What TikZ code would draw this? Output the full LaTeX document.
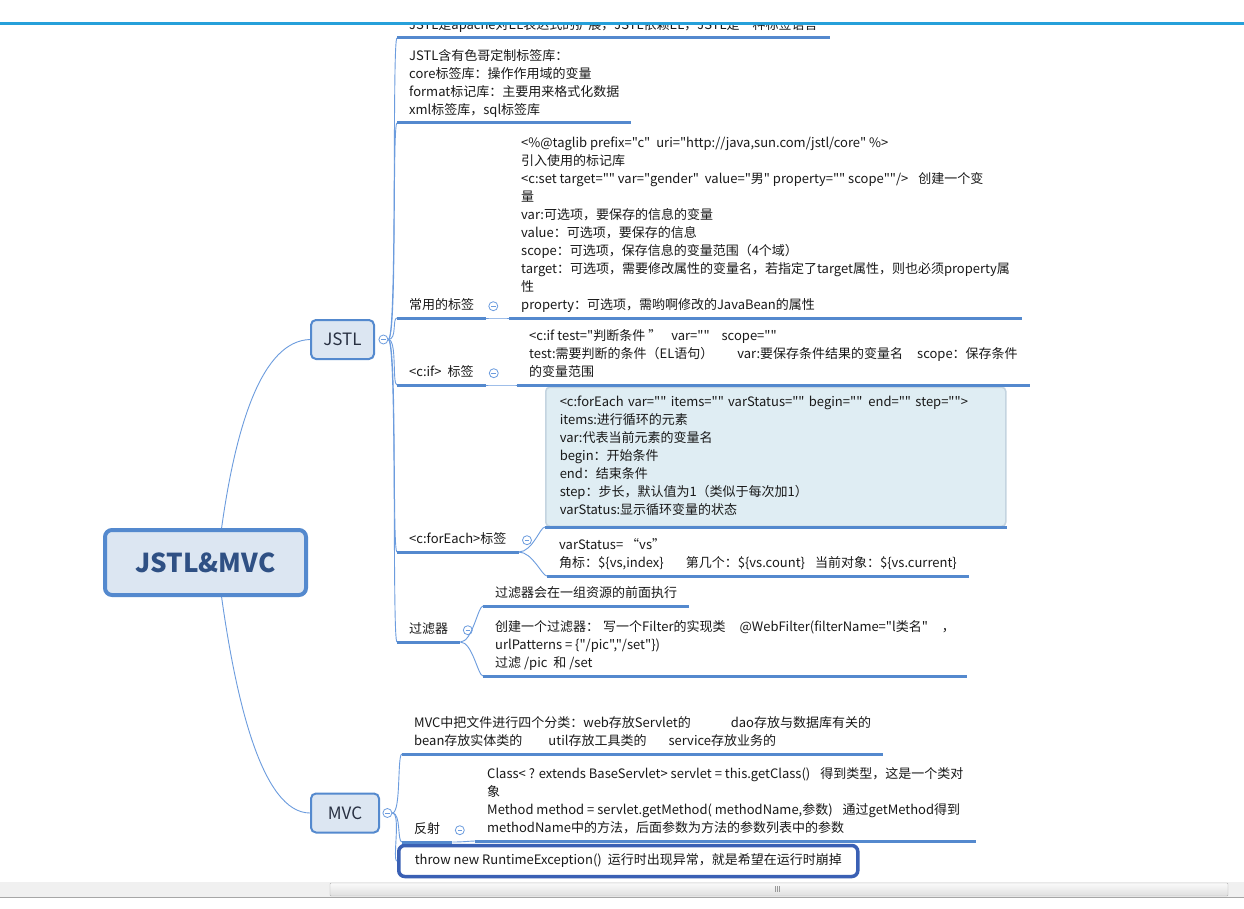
\documentclass[tikz,border=0pt]{standalone}
\usepackage{fontspec}
\setmainfont{Noto Sans CJK SC}[Ligatures=TeXOff]
\usepackage{xcolor}
\usepackage{tikz}
\usetikzlibrary{positioning, shadows}
\definecolor{linkblue}{RGB}{108,156,222}
\definecolor{ulblue}{RGB}{84,137,206}
\definecolor{topicfill}{RGB}{220,230,242}
\definecolor{topictext}{RGB}{40,48,66}
\definecolor{roottext}{RGB}{47,80,132}
\definecolor{barblue}{RGB}{38,160,218}
\definecolor{selblue}{RGB}{58,96,180}
\definecolor{selfill}{RGB}{223,237,243}
\definecolor{seledge}{RGB}{196,212,224}
\definecolor{txt}{RGB}{25,25,25}
\newcommand{\gapx}[1]{\hspace*{#1pt}}
\tikzset{
  % Mind map styles
  root/.style={rectangle, rounded corners=7pt, minimum width=201pt, minimum height=65pt, draw=ulblue, line width=4pt, fill=topicfill, text=roottext, font=\fontsize{26}{30}\selectfont\bfseries},
  topic/.style={rectangle, rounded corners=5pt, minimum width=#1, minimum height=39pt, draw=ulblue, line width=2pt, fill=topicfill, text=topictext, font=\fontsize{17}{20}\selectfont},
  topic/.default={63pt},
  leaf/.style={rectangle, anchor=south west, inner xsep=12pt, inner ysep=2.6pt, align=left, text=txt, font=\fontsize{13}{18}\selectfont, execute at begin node=\strut, execute at end node=\strut},
  selleaf/.style={leaf, inner xsep=14pt, inner ysep=6.5pt, rounded corners=4pt, fill=selfill, draw=seledge, line width=1.5pt, drop shadow={opacity=0.2, shadow xshift=0pt, shadow yshift=-1.5pt}},
  thrbox/.style={leaf, anchor=west, inner xsep=16pt, inner ysep=6.5pt, rounded corners=6pt, draw=selblue, line width=3.5pt, fill=white},
  fold/.style={circle, draw=linkblue, fill=white, line width=0.8pt, minimum size=9pt, inner sep=0pt, path picture={\draw[linkblue, line width=0.8pt] ([xshift=2.2pt]path picture bounding box.west) -- ([xshift=-2.2pt]path picture bounding box.east);}},
  uline/.style={ulblue, line width=3pt},
  branch/.style={linkblue, line width=0.9pt, out=0, in=180, out distance=#1, in distance=5pt},
  branch/.default={9pt},
}
\begin{document}
\begin{tikzpicture}[x=1pt, y=-1pt]
    \useasboundingbox (0,0) rectangle (1244,909);
    \fill[white] (0,0) rectangle (1244,909);

    % Central topic
    \node[root] (root) at (205.5,562.5) {JSTL\&MVC};

    % Main topics
    \node[topic] (jstl) at (342.5,339.5) {JSTL};
    \node[fold, right=3.5pt of jstl] (jstlf) {};
    \node[topic=68pt] (mvc) at (345,813) {MVC};
    \node[fold, right=2.5pt of mvc] (mvcf) {};

    % JSTL
    \node[leaf] (ext) at (397,38) {JSTL是apache对EL表达式的扩展，JSTL依赖EL，JSTL是一种标签语言};
    \node[leaf] (libs) at (397,123) {JSTL含有色哥定制标签库：\\core标签库：操作作用域的变量\\format标记库：主要用来格式化数据\\xml标签库，sql标签库};

    \node[leaf] (common) at (397,318) {常用的标签};
    \node[fold, right=2pt of common] (commonf) {};
    \node[leaf] (set) at (509,318) {<\%@taglib prefix="c"\gapx{6}uri="http://java,sun.com/jstl/core" \%>\\引入使用的标记库\\<c:set target="" var="gender"\gapx{6}value="男" property="" scope""/>\gapx{10}创建一个变\\量\\var:可选项，要保存的信息的变量\\value：可选项，要保存的信息\\scope：可选项，保存信息的变量范围（4个域）\\target：可选项，需要修改属性的变量名，若指定了target属性，则也必须property属\\性\\property：可选项，需哟啊修改的JavaBean的属性};

    \node[leaf] (iflbl) at (397,385) {<c:if>\gapx{6}标签};
    \node[fold, right=3pt of iflbl] (iff) {};
    \node[leaf] (iftxt) at (517,385) {<c:if test="判断条件 ”\gapx{10}var=""\gapx{12}scope=""\\test:需要判断的条件（EL语句）\gapx{24}var:要保存条件结果的变量名\gapx{14}scope：保存条件\\的变量范围};

    \node[leaf] (felbl) at (397,552) {<c:forEach>标签};
    \node[fold, right=3.5pt of felbl] (fef) {};
    \node[selleaf, text width=432pt] (fe) at (545,527) {<c:forEach var="" items="" varStatus="" begin=""\gapx{6}end="" step="">\\items:进行循环的元素\\var:代表当前元素的变量名\\begin：开始条件\\end：结束条件\\step：步长，默认值为1（类似于每次加1）\\varStatus:显示循环变量的状态};
    \node[leaf] (vs) at (547,576) {varStatus=\gapx{3}“vs”\\角标：\$\{vs,index\}\gapx{22}第几个：\$\{vs.count\}\gapx{10}当前对象：\$\{vs.current\}};

    \node[leaf] (flt) at (397,642) {过滤器};
    \node[fold, right=2.5pt of flt] (fltf) {};
    \node[leaf] (flta) at (483,606) {过滤器会在一组资源的前面执行};
    \node[leaf] (fltb) at (483,676) {创建一个过滤器：\gapx{4}写一个Filter的实现类\gapx{14}@WebFilter(filterName="l类名"\gapx{14}，\\urlPatterns = \{"/pic","/set"\})\\过滤 /pic\gapx{6}和 /set};

    % MVC
    \node[leaf] (pkg) at (402,754) {MVC中把文件进行四个分类：web存放Servlet的\gapx{40}dao存放与数据库有关的\\bean存放实体类的\gapx{26}util存放工具类的\gapx{22}service存放业务的};
    \node[leaf] (refl) at (402,842) {反射};
    \node[fold, right=2.5pt of refl] (reflf) {};
    \node[leaf] (refltxt) at (475,841) {Class< ? extends BaseServlet> servlet = this.getClass()\gapx{10}得到类型，这是一个类对\\象\\Method method = servlet.getMethod( methodName,参数)\gapx{10}通过getMethod得到\\methodName中的方法，后面参数为方法的参数列表中的参数};
    \node[thrbox] (thr) at (397,861) {throw new RuntimeException()\gapx{6}运行时出现异常，就是希望在运行时崩掉};

    % Branches
    \draw[linkblue, line width=0.9pt] (root.65) .. controls (236,425) and (262,341) .. (jstl.west);
    \draw[linkblue, line width=0.9pt] (root.-65) .. controls (236,700) and (262,813) .. (mvc.west);
    \foreach \c in {ext,libs,common,iflbl,felbl,flt}
      \draw[branch] (jstlf.east) to (\c.south west);
    \foreach \c in {pkg,refl}
      \draw[branch] (mvcf.east) to (\c.south west);
    \draw[branch] (mvcf.east) to (thr.west);
    \draw[branch=12pt] (common.south east) to (set.south west);
    \draw[branch=12pt] (iflbl.south east) to (iftxt.south west);
    \draw[branch=14pt] (felbl.south east) to (fe.south west);
    \draw[branch=14pt] (felbl.south east) to (vs.south west);
    \draw[branch=12pt] (flt.south east) to (flta.south west);
    \draw[branch=12pt] (flt.south east) to (fltb.south west);
    \draw[branch=12pt] (refl.south east) to (refltxt.south west);

    % Underlines
    \foreach \c in {ext,libs,common,set,iflbl,iftxt,felbl,fe,vs,flt,flta,fltb,pkg,refl,refltxt}
      \draw[uline] (\c.south west) -- (\c.south east);

    % Window frame
    \fill[white] (0,0) rectangle (1244,22);
    \fill[barblue] (0,22) rectangle (1244,25);
    \fill[gray!12] (0,882) rectangle (1244,897);
    \draw[gray!70, line width=1pt] (0,897.5) -- (1244,897.5);
    \draw[gray!60, top color=gray!4, bottom color=gray!25, rounded corners=1pt] (330,883) rectangle (1228,896);
    \foreach \gx in {775,777,779}
      \draw[gray!80, line width=0.6pt] (\gx,886) -- (\gx,892);
  \end{tikzpicture}
\end{document}
